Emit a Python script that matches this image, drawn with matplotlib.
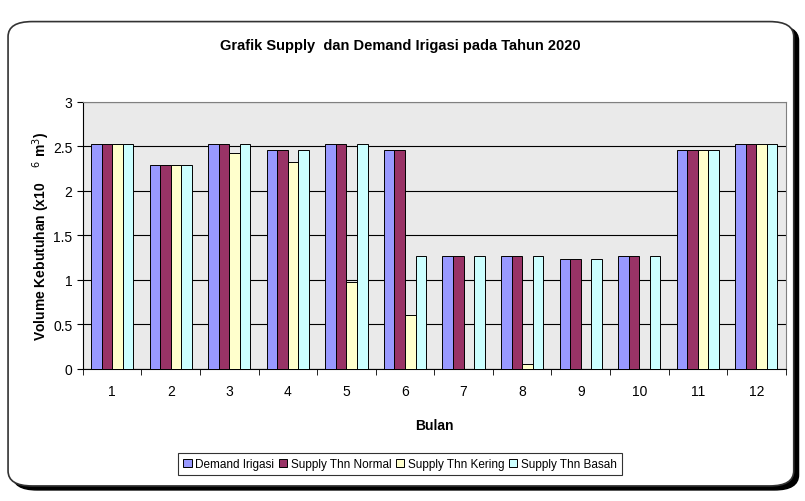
import numpy as np
import matplotlib
matplotlib.use("Agg")
import matplotlib.pyplot as plt
from matplotlib.patches import FancyBboxPatch

# data (x10^6 m3)
bulan = [1, 2, 3, 4, 5, 6, 7, 8, 9, 10, 11, 12]
demand = [2.53, 2.29, 2.53, 2.46, 2.53, 2.46, 1.27, 1.27, 1.23, 1.27, 2.46, 2.53]
normal = [2.53, 2.29, 2.53, 2.46, 2.53, 2.46, 1.27, 1.27, 1.23, 1.27, 2.46, 2.53]
kering = [2.53, 2.29, 2.43, 2.33, 0.98, 0.61, 0.0, 0.06, 0.0, 0.0, 2.46, 2.53]
basah = [2.53, 2.29, 2.53, 2.46, 2.53, 1.27, 1.27, 1.27, 1.23, 1.27, 2.46, 2.53]

serie = [demand, normal, kering, basah]
nama = ["Demand Irigasi", "Supply Thn Normal", "Supply Thn Kering", "Supply Thn Basah"]
warna = ["#9999FF", "#993366", "#FFFFCC", "#CCFFFF"]

plt.rcParams["font.family"] = ["Liberation Sans", "DejaVu Sans"]

fig = plt.figure(figsize=(8.05, 5.02), dpi=100)

# bingkai chart dengan bayangan
bayang = FancyBboxPatch((0.016, 0.022), 0.976, 0.925, boxstyle="round,pad=0,rounding_size=0.03",
                        transform=fig.transFigure, facecolor="black", edgecolor="black", zorder=-3)
bingkai = FancyBboxPatch((0.010, 0.030), 0.976, 0.925, boxstyle="round,pad=0,rounding_size=0.03",
                         transform=fig.transFigure, facecolor="white", edgecolor="#333333",
                         linewidth=1.2, zorder=-2)
fig.patches.append(bayang)
fig.patches.append(bingkai)

ax = fig.add_axes([0.103, 0.263, 0.873, 0.532])
ax.set_facecolor("#EAEAEA")

x = np.arange(len(bulan)) + 1
w = 0.18
for i in range(4):
    ax.bar(x + (i - 1.5) * w, serie[i], w, color=warna[i], edgecolor="black",
           linewidth=0.7, label=nama[i], zorder=3)

ax.set_ylim(0, 3)
ax.set_yticks(np.arange(0, 3.01, 0.5))
ax.set_yticklabels(["0", "0.5", "1", "1.5", "2", "2.5", "3"])
ax.yaxis.grid(True, color="black", linewidth=0.8, zorder=1)
ax.set_axisbelow(True)

ax.set_xlim(0.5, 12.5)
ax.set_xticks(x)
ax.set_xticklabels([str(b) for b in bulan])
ax.set_xticks(np.arange(0.5, 12.6, 1), minor=True)
ax.tick_params(axis="x", which="major", length=0, pad=11, labelsize=10)
ax.tick_params(axis="x", which="minor", length=4, direction="out", color="black")
ax.tick_params(axis="y", length=4, direction="out", labelsize=10)

for s in ["top", "right"]:
    ax.spines[s].set_color("#808080")
    ax.spines[s].set_linewidth(0.8)
ax.spines["left"].set_color("black")
ax.spines["bottom"].set_color("black")

ax.set_xlabel("Bulan", fontsize=10, fontweight="bold", labelpad=14)
ax.set_ylabel("Volume Kebutuhan (x10    $^{6}$ m$^{3}$)", fontsize=10, fontweight="bold", labelpad=1)

fig.text(0.497, 0.908, "Grafik Supply  dan Demand Irigasi pada Tahun 2020", ha="center", va="center",
         fontsize=10.5, fontweight="bold")

leg = ax.legend(loc="center", bbox_to_anchor=(0.497, 0.074), bbox_transform=fig.transFigure,
                ncol=4, fontsize=8.5, frameon=True, fancybox=False, edgecolor="black",
                handlelength=0.7, handleheight=0.7, handletextpad=0.3, columnspacing=0.4,
                borderpad=0.45)
leg.get_frame().set_linewidth(0.8)

plt.savefig("out.png", dpi=100)
